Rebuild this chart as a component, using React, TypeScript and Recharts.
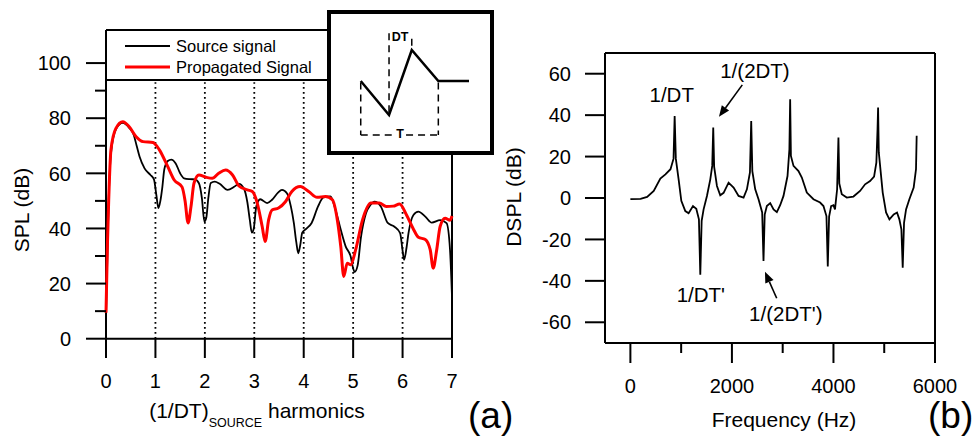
import { Label, Legend, Line, LineChart, ReferenceDot, ReferenceLine, XAxis, YAxis } from 'recharts';

const FONT = '"Liberation Sans", Arial, sans-serif';

// (a) SPL spectra against harmonics of the source 1/DT
const harmonicTicks = [0, 1, 2, 3, 4, 5, 6, 7];
const splTicks = [0, 10, 20, 30, 40, 50, 60, 70, 80, 90, 100];
const sourceSignal: [number, number][] = [
  [0, 8], [0.05, 48], [0.1, 67], [0.2, 76], [0.34, 78.3], [0.47, 76.5], [0.56, 74], [0.62, 70],
  [0.68, 66], [0.78, 61.8], [0.9, 59.4], [0.97, 57.8], [1.02, 52], [1.06, 47.4], [1.1, 50],
  [1.14, 55], [1.18, 61.5], [1.25, 64.5], [1.32, 65], [1.41, 63.6], [1.5, 60], [1.58, 58.2],
  [1.7, 57.9], [1.8, 57.8], [1.88, 56.4], [1.94, 51], [1.99, 42.5], [2.03, 44], [2.07, 51],
  [2.12, 56.5], [2.2, 57], [2.3, 56.2], [2.46, 54], [2.6, 55.2], [2.69, 56.2], [2.79, 54.5],
  [2.86, 49.5], [2.91, 43], [2.95, 38.5], [2.99, 40], [3.04, 48], [3.12, 50.6], [3.26, 49.2],
  [3.36, 50.4], [3.48, 53], [3.56, 54], [3.66, 52.8], [3.74, 48], [3.8, 42], [3.85, 35],
  [3.89, 31], [3.93, 34], [3.97, 38.5], [4.06, 40], [4.16, 42], [4.29, 48], [4.4, 51.3],
  [4.54, 51.6], [4.64, 47], [4.75, 39.5], [4.85, 33.4], [4.95, 29.8], [5.0, 25.5], [5.03, 24.2],
  [5.09, 26.5], [5.16, 37], [5.26, 45.5], [5.35, 48.5], [5.43, 49.7], [5.56, 48], [5.7, 42],
  [5.83, 40.7], [5.95, 38.3], [6.0, 32], [6.03, 28.6], [6.08, 33], [6.12, 38.3], [6.22, 44.9],
  [6.32, 46.1], [6.46, 44.3], [6.59, 42.1], [6.76, 43], [6.89, 41.9], [6.96, 32.2], [7.0, 15.3],
];
const propagatedSignal: [number, number][] = [
  [0, 9.4], [0.03, 35], [0.055, 50.4], [0.1, 68.5], [0.2, 76.3], [0.34, 78.7], [0.47, 76.9],
  [0.61, 73.3], [0.75, 71.5], [0.95, 71.2], [1.08, 68.5], [1.25, 62.4], [1.38, 57.6], [1.54, 55],
  [1.6, 50], [1.66, 42], [1.72, 48], [1.78, 56.4], [1.88, 59.4], [2.02, 58.6], [2.15, 58.2],
  [2.28, 60], [2.42, 61.2], [2.56, 59.4], [2.69, 55.4], [2.86, 54], [2.96, 53.4], [3.06, 49.2],
  [3.16, 40.7], [3.22, 35.3], [3.29, 43.1], [3.36, 46.7], [3.49, 47.4], [3.63, 49.7], [3.76, 53.4],
  [3.93, 55.2], [4.1, 53.4], [4.27, 51.3], [4.44, 51.6], [4.58, 50.4], [4.68, 43.1], [4.75, 33.4],
  [4.81, 22.6], [4.88, 27.4], [4.95, 26.8], [5.05, 32.2], [5.19, 43.1], [5.36, 49.2], [5.53, 49.2],
  [5.67, 48], [5.81, 48.1], [5.94, 48.9], [6.08, 44.9], [6.21, 40.1], [6.32, 36.8], [6.46, 36],
  [6.56, 32.2], [6.62, 25.6], [6.69, 32.2], [6.76, 40.7], [6.86, 43.7], [6.96, 43], [7.0, 44.5],
];
const seriesNames = ['Source signal', 'Propagated Signal'];

// inset: waveform sketch (arbitrary units)
const insetWave: [number, number][] = [[1.87, 5.11], [3.65, 2.63], [5.08, 7.37], [6.75, 5.11], [8.68, 5.11]];
const insetDashes: [number, number, number, number][] = [
  [1.87, 5.0, 1.87, 1.17], [1.87, 1.17, 3.95, 1.17], [4.72, 1.17, 6.75, 1.17],
  [6.75, 5.0, 6.75, 1.17], [3.65, 8.6, 3.65, 2.7], [5.08, 8.2, 5.08, 7.4],
];
const insetLabels = [{ text: 'DT', t: 4.34, p: 8.32 }, { text: 'T', t: 4.34, p: 1.24 }];

// (b) DSPL against frequency
const freqTicks = [0, 1000, 2000, 3000, 4000, 5000, 6000];
const dsplTicks = [-60, -40, -20, 0, 20, 40, 60];
const dsplCurve: [number, number][] = [
  [0, -0.5], [200, -0.4], [330, 0.5], [460, 3.4], [590, 9.4], [690, 11.4], [790, 13.9], [850, 19],
  [872, 39.6], [895, 19], [950, 9], [1003, -1.4], [1082, -6.3], [1147, -7.4], [1233, -3.9],
  [1298, -5.2], [1350, -10.3], [1377, -37], [1404, -11], [1442, -5.5], [1508, 1], [1574, 9],
  [1612, 15.5], [1632, 34], [1650, 15], [1705, 5.8], [1770, 1.3], [1836, 2.5], [1934, 7.4],
  [2033, 5], [2131, 1], [2229, 0.2], [2295, 4.2], [2355, 12.3], [2380, 37.2], [2402, 13],
  [2459, 4.2], [2524, -0.6], [2596, -7], [2622, -30.4], [2646, -8], [2688, -3.9], [2754, -2.5],
  [2820, -5.5], [2885, -6.8], [2950, -3.5], [3016, 1], [3095, 10.6], [3132, 23.5], [3147, 47.7],
  [3162, 20.3], [3213, 15.5], [3311, 13], [3377, 9.9], [3475, 2.6], [3606, -0.6], [3737, -2.2],
  [3803, -3.9], [3862, -8.7], [3888, -33], [3914, -9], [3954, -3.9], [4000, -3.5], [4030, -5.5],
  [4072, 4.2], [4098, 29.2], [4115, 7], [4164, 1.8], [4262, 0.2], [4393, 0.7], [4524, 3.4],
  [4623, 6.6], [4721, 8.2], [4800, 10.3], [4845, 17.1], [4868, 33.2], [4879, 43.7], [4893, 22],
  [4970, 2.6], [5036, -7], [5102, -10.3], [5187, -7.9], [5252, -7], [5298, -10.3], [5338, -15.1],
  [5364, -33.6], [5390, -12], [5430, -5.5], [5495, -0.6], [5580, 5], [5626, 13.9], [5639, 30],
];
const dsplNotes = [
  { text: '1/DT', f: 814, db: 50 },
  { text: '1/(2DT)', f: 2454, db: 61.6 },
  { text: "1/DT'", f: 1387, db: -46.8 },
  { text: "1/(2DT')", f: 3061, db: -56 },
];
const dsplArrows: [number, number, number, number][] = [
  [2204, 54.6, 1745, 39.2],
  [2882, -48.4, 2651, -35.6],
];

const toPoints = (pairs: [number, number][], xKey: string, yKey: string) =>
  pairs.map(([a, b]) => ({ [xKey]: a, [yKey]: b }));

const SplTick = ({ x, y, payload }: any) => {
  const major = payload.value % 20 === 0;
  return (
    <g>
      <line x1={x - (major ? 20 : 11)} x2={x} y1={y} y2={y} stroke="#000" strokeWidth={2} />
      {major && (
        <text x={x - 35} y={y} dy="0.36em" textAnchor="end" fontSize={20} fontFamily={FONT} fill="#000">
          {payload.value}
        </text>
      )}
    </g>
  );
};

const HarmonicTick = ({ x, y, payload }: any) => (
  <text x={x} y={y + 30} textAnchor="middle" fontSize={20} fontFamily={FONT} fill="#000">
    {payload.value}
  </text>
);

const DsplTick = ({ x, y, payload }: any) => (
  <g>
    <line x1={x - 20} x2={x} y1={y} y2={y} stroke="#000" strokeWidth={2} />
    <text x={x - 34} y={y} dy="0.36em" textAnchor="end" fontSize={20} fontFamily={FONT} fill="#000">
      {payload.value}
    </text>
  </g>
);

const FreqTick = ({ x, y, payload }: any) => {
  const major = payload.value % 2000 === 0;
  return (
    <g>
      <line x1={x} x2={x} y1={y} y2={y + (major ? 20 : 10)} stroke="#000" strokeWidth={2} />
      {major && (
        <text x={x} y={y + 50} textAnchor="middle" fontSize={20} fontFamily={FONT} fill="#000">
          {payload.value}
        </text>
      )}
    </g>
  );
};

const SpectrumLegend = ({ payload }: any) => {
  const items = [...(payload || [])].sort(
    (a: any, b: any) => seriesNames.indexOf(a.value) - seriesNames.indexOf(b.value),
  );
  return (
    <div style={{ fontFamily: FONT, fontSize: 16.5, color: '#000' }}>
      {items.map((entry: any) => (
        <div key={entry.value} style={{ display: 'flex', alignItems: 'center', height: 21.5 }}>
          <svg width={45} height={6}>
            <line x1={0} x2={45} y1={3} y2={3} stroke={entry.color} strokeWidth={entry.payload?.strokeWidth ?? 2} />
          </svg>
          <span style={{ marginLeft: 6, lineHeight: 1 }}>{entry.value}</span>
        </div>
      ))}
    </div>
  );
};

const Arrow = (props: any) => {
  const { x1, y1, x2, y2 } = props;
  const ang = Math.atan2(y2 - y1, x2 - x1);
  const bx = x2 - 11 * Math.cos(ang);
  const by = y2 - 11 * Math.sin(ang);
  const px = -Math.sin(ang) * 4.5;
  const py = Math.cos(ang) * 4.5;
  return (
    <g>
      <line x1={x1} y1={y1} x2={bx} y2={by} stroke="#000" strokeWidth={1.6} />
      <polygon points={`${x2},${y2} ${bx + px},${by + py} ${bx - px},${by - py}`} fill="#000" />
    </g>
  );
};

const harmonicsTitle = ({ viewBox }: any) => (
  <text x={viewBox.x + viewBox.width / 2 - 22} y={viewBox.y + 60} textAnchor="middle" fontSize={21} fontFamily={FONT} fill="#000">
    (1/DT)
    <tspan fontSize={12.5} dy={9}>SOURCE</tspan>
    <tspan dy={-9}> harmonics</tspan>
  </text>
);

const splTitle = ({ viewBox }: any) => {
  const cx = viewBox.x + 29;
  const cy = viewBox.y + viewBox.height / 2 + 16;
  return (
    <text x={cx} y={cy} transform={`rotate(-90, ${cx}, ${cy})`} textAnchor="middle" fontSize={21} fontFamily={FONT} fill="#000">
      SPL (dB)
    </text>
  );
};

const freqTitle = ({ viewBox }: any) => (
  <text x={viewBox.x + viewBox.width / 2 + 14} y={viewBox.y + 84} textAnchor="middle" fontSize={21} fontFamily={FONT} fill="#000">
    Frequency (Hz)
  </text>
);

const dsplTitle = ({ viewBox }: any) => {
  const cx = viewBox.x + 21;
  const cy = viewBox.y + viewBox.height / 2 - 1;
  return (
    <text x={cx} y={cy} transform={`rotate(-90, ${cx}, ${cy})`} textAnchor="middle" fontSize={21} fontFamily={FONT} fill="#000">
      DSPL (dB)
    </text>
  );
};

const frame = { stroke: '#000', strokeWidth: 2 };

const App = () => (
  <div style={{ position: 'absolute', left: 0, top: 0, width: 976, height: 438, background: '#fff', fontFamily: FONT }}>
    <div style={{ position: 'absolute', left: 0, top: 0 }}>
      <LineChart width={500} height={438} margin={{ top: 30, right: 48, bottom: 0, left: 0 }}>
        <XAxis
          type="number"
          dataKey="h"
          domain={[0, 7]}
          ticks={harmonicTicks}
          interval={0}
          height={80}
          axisLine={false}
          tickLine={false}
          tickSize={0}
          tickMargin={0}
          tick={HarmonicTick}
        >
          <Label content={harmonicsTitle} />
        </XAxis>
        <YAxis
          type="number"
          domain={[-7, 112]}
          ticks={splTicks}
          interval={0}
          width={106}
          axisLine={false}
          tickLine={false}
          tickSize={0}
          tickMargin={0}
          tick={SplTick}
        >
          <Label content={splTitle} />
        </YAxis>
        <ReferenceLine x={0} {...frame} />
        <ReferenceLine x={7} {...frame} />
        <ReferenceLine y={112} {...frame} />
        <ReferenceLine y={0} {...frame} />
        <ReferenceLine y={93.9} {...frame} />
        {harmonicTicks.map((k) => (
          <ReferenceLine key={`t${k}`} segment={[{ x: k, y: -7 }, { x: k, y: 0 }]} {...frame} />
        ))}
        {harmonicTicks.slice(1, -1).map((k) => (
          <ReferenceLine
            key={`d${k}`}
            segment={[{ x: k, y: 0 }, { x: k, y: 93 }]}
            stroke="#000"
            strokeWidth={1.8}
            strokeDasharray="1.8 3.2"
          />
        ))}
        <Line
          data={toPoints(sourceSignal, 'h', 'spl')}
          dataKey="spl"
          name="Source signal"
          type="monotone"
          stroke="#000"
          strokeWidth={1.8}
          dot={false}
          activeDot={false}
          isAnimationActive={false}
        />
        <Line
          data={toPoints(propagatedSignal, 'h', 'spl')}
          dataKey="spl"
          name="Propagated Signal"
          type="monotone"
          stroke="#ff0000"
          strokeWidth={3}
          dot={false}
          activeDot={false}
          isAnimationActive={false}
        />
        <Legend
          layout="horizontal"
          verticalAlign="middle"
          align="center"
          content={SpectrumLegend}
          wrapperStyle={{ left: 125, top: 35, width: 200, height: 44 }}
        />
      </LineChart>
    </div>

    <div
      style={{
        position: 'absolute',
        left: 327,
        top: 10,
        width: 167,
        height: 145,
        border: '4px solid #000',
        boxSizing: 'border-box',
        background: '#fff',
      }}
    >
      <LineChart width={159} height={137} data={toPoints(insetWave, 't', 'p')} margin={{ top: 0, right: 0, bottom: 0, left: 0 }}>
        <XAxis type="number" dataKey="t" domain={[0, 10]} hide />
        <YAxis type="number" domain={[0, 10]} hide />
        {insetDashes.map(([ax, ay, bx, by], i) => (
          <ReferenceLine
            key={i}
            segment={[{ x: ax, y: ay }, { x: bx, y: by }]}
            stroke="#000"
            strokeWidth={1.5}
            strokeDasharray="7 5"
          />
        ))}
        <Line dataKey="p" type="linear" stroke="#000" strokeWidth={2.5} dot={false} activeDot={false} isAnimationActive={false} />
        {insetLabels.map((l) => (
          <ReferenceDot
            key={l.text}
            x={l.t}
            y={l.p}
            r={0}
            stroke="none"
            label={{ value: l.text, position: 'center', fontSize: 12.5, fontWeight: 'bold', fontFamily: FONT, fill: '#000' }}
          />
        ))}
      </LineChart>
    </div>

    <div style={{ position: 'absolute', left: 500, top: 0 }}>
      <LineChart width={476} height={438} margin={{ top: 53, right: 41, bottom: 0, left: 0 }}>
        <XAxis
          type="number"
          dataKey="f"
          domain={[-500, 6000]}
          ticks={freqTicks}
          interval={0}
          height={95}
          axisLine={false}
          tickLine={false}
          tickSize={0}
          tickMargin={0}
          tick={FreqTick}
        >
          <Label content={freqTitle} />
        </XAxis>
        <YAxis
          type="number"
          domain={[-70, 70]}
          ticks={dsplTicks}
          interval={0}
          width={105}
          axisLine={false}
          tickLine={false}
          tickSize={0}
          tickMargin={0}
          tick={DsplTick}
        >
          <Label content={dsplTitle} />
        </YAxis>
        <ReferenceLine x={-500} {...frame} />
        <ReferenceLine x={6000} {...frame} />
        <ReferenceLine y={70} {...frame} />
        <ReferenceLine y={-70} {...frame} />
        <Line
          data={toPoints(dsplCurve, 'f', 'dspl')}
          dataKey="dspl"
          type="linear"
          stroke="#000"
          strokeWidth={1.8}
          dot={false}
          activeDot={false}
          isAnimationActive={false}
        />
        {dsplArrows.map(([fa, da, fb, db], i) => (
          <ReferenceLine key={i} segment={[{ x: fa, y: da }, { x: fb, y: db }]} shape={Arrow} />
        ))}
        {dsplNotes.map((n) => (
          <ReferenceDot
            key={n.text}
            x={n.f}
            y={n.db}
            r={0}
            stroke="none"
            label={{ value: n.text, position: 'center', fontSize: 20.5, fontFamily: FONT, fill: '#000' }}
          />
        ))}
      </LineChart>
    </div>

    <svg width={976} height={438} style={{ position: 'absolute', left: 0, top: 0, pointerEvents: 'none' }}>
      <text x={468} y={428} fontSize={37} fontFamily={FONT} fill="#000">(a)</text>
      <text x={928} y={428} fontSize={37} fontFamily={FONT} fill="#000">(b)</text>
    </svg>
  </div>
);

export default App;
